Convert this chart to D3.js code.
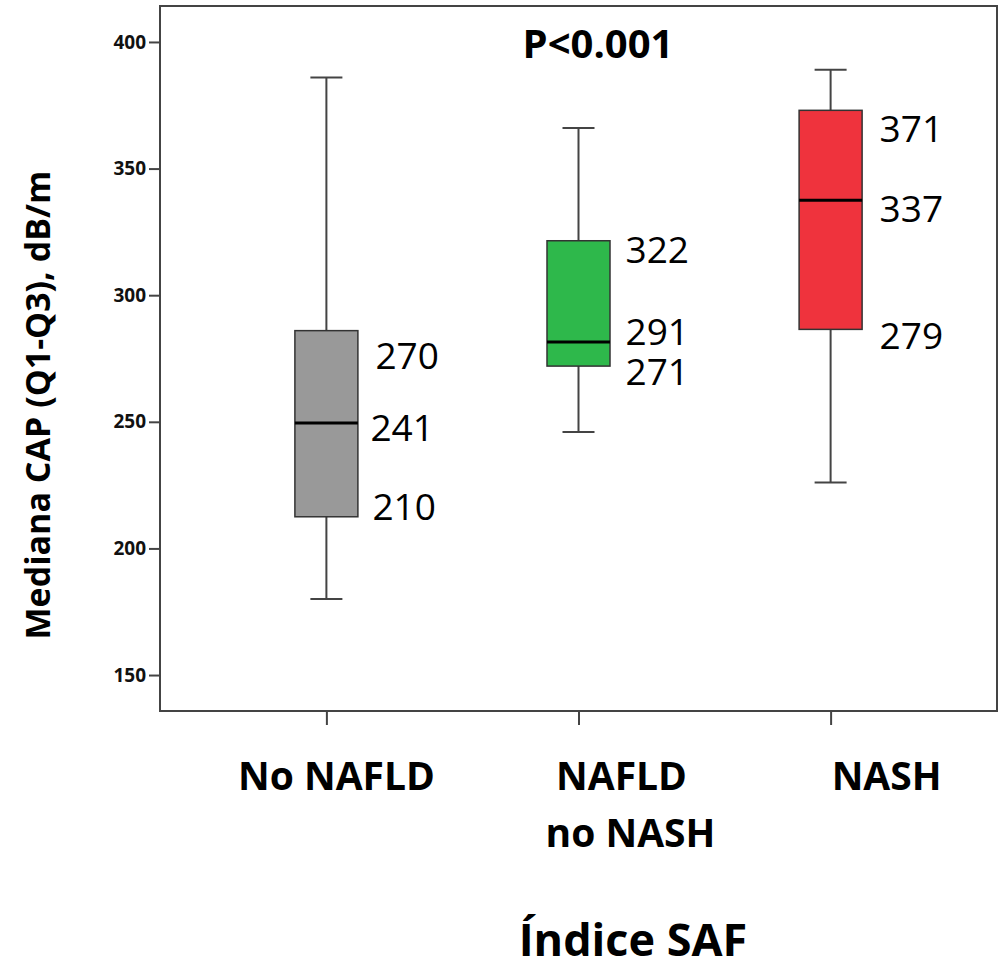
<!DOCTYPE html>
<html>
<head>
<meta charset="utf-8">
<script src="https://cdn.jsdelivr.net/npm/d3@7"></script>
<style>
  body { margin: 0; background: #fff; }
  text { font-family: "Open Sans", "Noto Sans", sans-serif; }
</style>
</head>
<body>
<svg id="chart"></svg>
<script>
// groups and box statistics (dB/m)
const categories = ["No NAFLD", "NAFLD\nno NASH", "NASH"];
const whiskerLow = [180, 246, 226];
const q1 = [212.5, 272, 286.5];
const median = [249.5, 281.5, 337.5];
const q3 = [286, 321.5, 373];
const whiskerHigh = [386, 366, 389];
const boxColors = ["#999999", "#2eb84b", "#ef333d"];

// value labels written beside each box, and the height (dB/m) they sit at
const labelText = [["270", "241", "210"], ["322", "291", "271"], ["371", "337", "279"]];
const labelAt = [[276, 247.5, 216.5], [318, 285.5, 269.5], [365.5, 334, 284]];

const yTicks = [150, 200, 250, 300, 350, 400];

const conf = {
  width: 1002,
  height: 960,
  margin: { top: 6, right: 5, bottom: 249, left: 160 },
  boxWidth: 63,
  capWidth: 32,
};

const svg = d3.select("svg#chart")
  .attr("width", conf.width)
  .attr("height", conf.height);

const x0 = conf.margin.left;
const x1 = conf.width - conf.margin.right;
const y0 = conf.margin.top;
const y1 = conf.height - conf.margin.bottom;

let y = d3.scaleLinear().domain([135.8, 414.2]).range([y1, y0]);
let x = d3.scalePoint().domain(categories).range([x0, x1]).padding(0.66);

// frame
svg.append("rect")
  .attr("x", x0).attr("y", y0)
  .attr("width", x1 - x0).attr("height", y1 - y0)
  .attr("fill", "none")
  .attr("stroke", "#444")
  .attr("stroke-width", 2);

// y axis
let yAxis = svg.append("g")
  .attr("transform", `translate(${x0},0)`)
  .call(d3.axisLeft(y).tickValues(yTicks).tickSize(11).tickPadding(3));
yAxis.select(".domain").remove();
yAxis.selectAll(".tick line").attr("stroke", "#444").attr("stroke-width", 2);
yAxis.selectAll(".tick text")
  .attr("fill", "#111")
  .style("font-size", "19px")
  .style("font-weight", "bold")
  .style("font-family", "'Open Sans', sans-serif");

// x ticks
let xAxis = svg.append("g")
  .attr("transform", `translate(0,${y1})`)
  .call(d3.axisBottom(x).tickSize(14).tickFormat(""));
xAxis.select(".domain").remove();
xAxis.selectAll(".tick line").attr("stroke", "#444").attr("stroke-width", 2);

// category labels
const catDx = [10, 43, 56];
categories.forEach((c, i) => {
  let lines = c.split("\n");
  let t = svg.append("text")
    .attr("x", x(c) + catDx[i])
    .attr("y", 790)
    .attr("text-anchor", "middle")
    .style("font-size", "39px")
    .style("font-weight", "bold")
    .attr("fill", "#000");
  lines.forEach((l, j) => {
    t.append("tspan")
      .attr("x", x(c) + catDx[i] + (j > 0 ? 9 : 0))
      .attr("dy", j === 0 ? 0 : 57)
      .text(l);
  });
});

// boxes
let groups = svg.selectAll("g.box")
  .data(categories)
  .enter()
  .append("g")
  .classed("box", true);

groups.append("line")
  .attr("x1", (d) => x(d)).attr("x2", (d) => x(d))
  .attr("y1", (d, i) => y(whiskerHigh[i]))
  .attr("y2", (d, i) => y(whiskerLow[i]))
  .attr("stroke", "#444").attr("stroke-width", 2);

groups.append("line")
  .attr("x1", (d) => x(d) - conf.capWidth / 2).attr("x2", (d) => x(d) + conf.capWidth / 2)
  .attr("y1", (d, i) => y(whiskerHigh[i])).attr("y2", (d, i) => y(whiskerHigh[i]))
  .attr("stroke", "#444").attr("stroke-width", 2);

groups.append("line")
  .attr("x1", (d) => x(d) - conf.capWidth / 2).attr("x2", (d) => x(d) + conf.capWidth / 2)
  .attr("y1", (d, i) => y(whiskerLow[i])).attr("y2", (d, i) => y(whiskerLow[i]))
  .attr("stroke", "#444").attr("stroke-width", 2);

groups.append("rect")
  .attr("x", (d) => x(d) - conf.boxWidth / 2)
  .attr("y", (d, i) => y(q3[i]))
  .attr("width", conf.boxWidth)
  .attr("height", (d, i) => y(q1[i]) - y(q3[i]))
  .attr("fill", (d, i) => boxColors[i])
  .attr("stroke", "#333")
  .attr("stroke-width", 1.5);

groups.append("line")
  .attr("x1", (d) => x(d) - conf.boxWidth / 2).attr("x2", (d) => x(d) + conf.boxWidth / 2)
  .attr("y1", (d, i) => y(median[i])).attr("y2", (d, i) => y(median[i]))
  .attr("stroke", "#000").attr("stroke-width", 3);

// value labels
const labelDx = [[49, 44, 46], [47, 47, 47], [49, 49, 49]];
categories.forEach((c, i) => {
  labelText[i].forEach((t, j) => {
    svg.append("text")
      .attr("x", x(c) + labelDx[i][j])
      .attr("y", y(labelAt[i][j]))
      .attr("dy", "0.35em")
      .style("font-size", "37px")
      .attr("fill", "#000")
      .text(t);
  });
});

// p value
svg.append("text")
  .attr("x", 598).attr("y", 44)
  .attr("dy", "0.35em")
  .attr("text-anchor", "middle")
  .style("font-size", "40px")
  .style("font-weight", "bold")
  .text("P<0.001");

// axis titles
svg.append("text")
  .attr("transform", "translate(38,405) rotate(-90)")
  .attr("dy", "0.35em")
  .attr("text-anchor", "middle")
  .style("font-size", "34px")
  .style("font-weight", "bold")
  .text("Mediana CAP (Q1-Q3), dB/m");

svg.append("text")
  .attr("x", 633).attr("y", 940)
  .attr("dy", "0.35em")
  .attr("text-anchor", "middle")
  .style("font-size", "45px")
  .style("font-weight", "bold")
  .text("Índice SAF");
</script>
</body>
</html>
